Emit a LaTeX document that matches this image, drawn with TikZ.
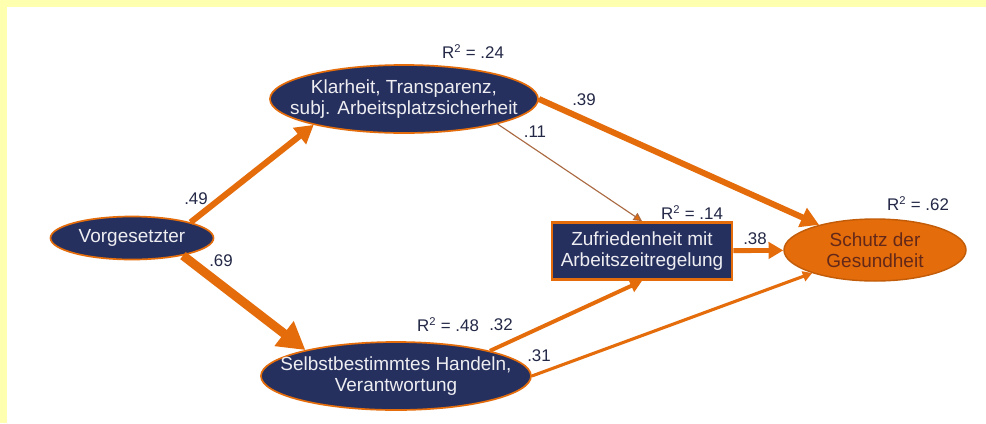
\documentclass[tikz,border=0pt]{standalone}
\usepackage{fontspec}
\setmainfont{Liberation Sans}
\usepackage{tikz}
\definecolor{navy}{RGB}{38, 48, 94}
\definecolor{orangeline}{RGB}{228, 108, 10}
\definecolor{darkbrown}{RGB}{100, 40, 25}
\definecolor{labelgray}{RGB}{35, 40, 70}
\definecolor{lightyellow}{RGB}{255, 255, 176}
\definecolor{thinbrown}{RGB}{170, 105, 65}
\usetikzlibrary{shapes.geometric, arrows.meta, positioning}

\begin{document}
\begin{tikzpicture}[x=0.025cm, y=-0.025cm,
    latent/.style={ellipse, draw=orangeline, line width=1.2pt, fill=navy, inner sep=0pt},
    nodetext/.style={font=\fontsize{13.5}{15}\selectfont, text=white!92!navy, align=center},
    coef/.style={font=\fontsize{12}{14}\selectfont, text=labelgray},
    effect/.style={draw=orangeline, line width=#1, -{Triangle[length=0pt 3, width=0pt 3.3]}}
]
    % Frame
    \useasboundingbox (0,0) rectangle (986,423);
    \fill[lightyellow] (0,0) rectangle (986,423);
    \fill[white] (7,7) rectangle (986,423);

    % Constructs
    \node[latent, minimum width=4.075cm, minimum height=1.075cm] (vorg) at (132,238) {};
    \node[nodetext] at (vorg) {Vorgesetzter};

    \node[latent, minimum width=6.7cm, minimum height=1.7cm] (klar) at (404,99) {};
    \node[nodetext] at (klar) {Klarheit, Transparenz,\\subj. Arbeitsplatzsicherheit};

    \node[latent, minimum width=6.75cm, minimum height=1.7cm] (selb) at (396,376) {};
    \node[nodetext] at (selb) {Selbstbestimmtes Handeln,\\Verantwortung};

    \node[rectangle, draw=orangeline, line width=2pt, fill=navy, minimum width=4.5cm, minimum height=1.425cm] (zuf) at (642,251) {};
    \node[nodetext] at (zuf) {Zufriedenheit mit\\Arbeitszeitregelung};

    \node[ellipse, draw=orangeline!85!black, line width=1pt, fill=orangeline, minimum width=4.55cm, minimum height=1.55cm] (schutz) at (875,250) {};
    \node[nodetext, text=darkbrown] at (schutz) {Schutz der\\Gesundheit};

    % Paths
    \draw[effect=4.3pt] (vorg.15) -- (klar.196);
    \draw[effect=6.4pt] (vorg.-19) -- (selb.164);
    \draw[effect=4.3pt] (klar.east) -- (schutz);
    \draw[thinbrown, line width=0.8pt, -{Triangle[length=6pt, width=6pt, fill=orangeline]}] (klar.-15) -- (zuf.north);
    \draw[effect=3.5pt] (zuf) -- (schutz);
    \draw[effect=2.8pt] (selb.15) -- (zuf.south);
    \draw[effect=2.2pt] (selb.east) -- (schutz);

    % Coefficients
    \node[coef] at (196,199) {.49};
    \node[coef] at (221,261) {.69};
    \node[coef] at (584,100) {.39};
    \node[coef] at (535,132) {.11};
    \node[coef] at (755,239) {.38};
    \node[coef] at (501,325) {.32};
    \node[coef] at (539,356) {.31};

    % Explained variance
    \node[coef] at (473,52) {R\textsuperscript{2} = .24};
    \node[coef] at (692,213) {R\textsuperscript{2} = .14};
    \node[coef] at (918,204) {R\textsuperscript{2} = .62};
    \node[coef] at (448,325) {R\textsuperscript{2} = .48};
\end{tikzpicture}
\end{document}
